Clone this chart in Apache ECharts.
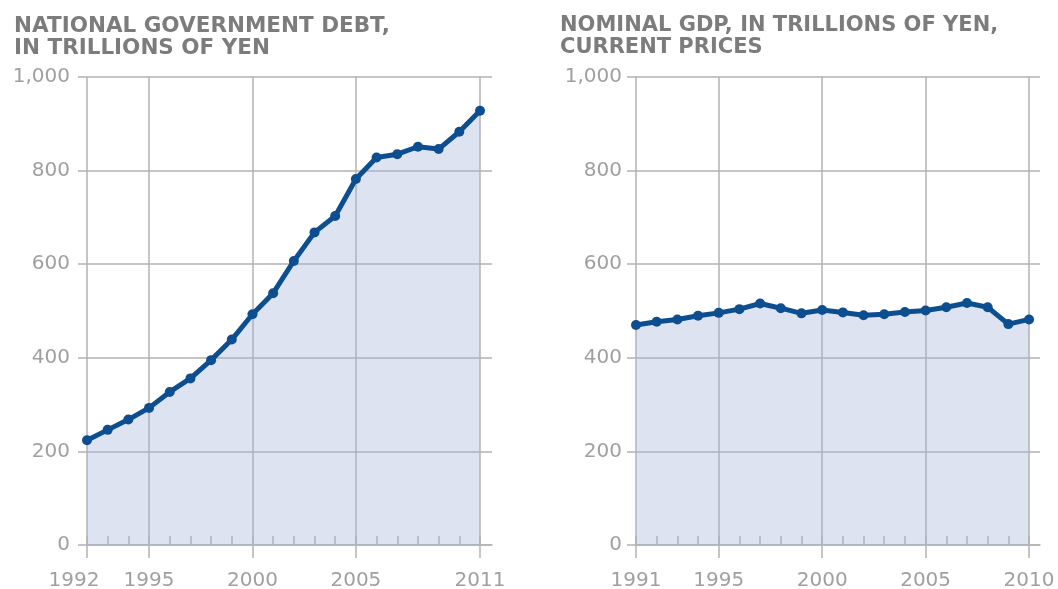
<!DOCTYPE html>
<html>
<head>
<meta charset="utf-8">
<script src="https://cdn.jsdelivr.net/npm/echarts@6/dist/echarts.min.js"></script>
<style>
  html, body { margin: 0; padding: 0; background: #ffffff; }
  #chart { width: 1058px; height: 589px; }
</style>
</head>
<body>
<div id="chart"></div>
<script>
// National government debt, trillions of yen
const debtYears = [1992, 1993, 1994, 1995, 1996, 1997, 1998, 1999, 2000, 2001,
                   2002, 2003, 2004, 2005, 2006, 2007, 2008, 2009, 2010, 2011];
const debtValues = [224, 246, 268, 293, 327, 356, 395, 439, 493, 538,
                    607, 668, 703, 782, 828, 835, 851, 846, 883, 928];
const debtLabelYears = [1992, 1995, 2000, 2005, 2011];

// Nominal GDP, trillions of yen, current prices
const gdpYears = [1991, 1992, 1993, 1994, 1995, 1996, 1997, 1998, 1999, 2000,
                  2001, 2002, 2003, 2004, 2005, 2006, 2007, 2008, 2009, 2010];
const gdpValues = [470, 477, 482, 490, 496, 504, 516, 506, 495, 502,
                   497, 491, 493, 498, 501, 508, 517, 508, 472, 482];
const gdpLabelYears = [1991, 1995, 2000, 2005, 2010];

const yMin = 0, yMax = 1000, yStep = 200;

const TITLE_COLOR = '#7c7c7c';
const LABEL_COLOR = '#a0a0a0';
const GRID_COLOR = '#b2b2b2';
const LINE_COLOR = '#0d4e90';
const FILL_COLOR = 'rgba(160, 178, 215, 0.36)';
const FONT = 'DejaVu Sans';

function pairs(xs, ys) { return xs.map((x, i) => [x, ys[i]]); }

function majorX(gridIndex, min, max, labelYears, shiftedYear) {
  return {
    type: 'value', gridIndex, min, max, position: 'bottom',
    axisLine: { show: true, onZero: false, lineStyle: { color: GRID_COLOR, width: 1.5 } },
    axisTick: { show: true, customValues: labelYears, length: 13, inside: false,
                lineStyle: { color: GRID_COLOR, width: 1.5 } },
    axisLabel: {
      customValues: labelYears, margin: 26,
      color: LABEL_COLOR, fontSize: 20, fontFamily: FONT,
      // the first year label sits a little left of its tick
      formatter: v => (v === shiftedYear ? '{lead|' + v + '}' : String(v)),
      rich: { lead: { color: LABEL_COLOR, fontSize: 20, fontFamily: FONT, padding: [0, 26, 0, 0] } }
    },
    splitLine: { show: true, customValues: labelYears, lineStyle: { color: GRID_COLOR, width: 1.5 } }
  };
}

function minorX(gridIndex, min, max, years) {
  return {
    type: 'value', gridIndex, min, max, position: 'bottom',
    axisLine: { show: false },
    axisTick: { show: true, customValues: years, length: 9, inside: true,
                lineStyle: { color: GRID_COLOR, width: 1.5 } },
    axisLabel: { show: false },
    splitLine: { show: false }
  };
}

function valueY(gridIndex, margin) {
  return {
    type: 'value', gridIndex, min: yMin, max: yMax, interval: yStep,
    axisLine: { show: false },
    axisTick: { show: true, length: 9, lineStyle: { color: GRID_COLOR, width: 1.5 } },
    axisLabel: { margin, color: LABEL_COLOR, fontSize: 20, fontFamily: FONT,
                 formatter: v => v.toLocaleString('en-US') },
    splitLine: { show: true, lineStyle: { color: GRID_COLOR, width: 1.5 } }
  };
}

function lineSeries(xAxisIndex, yAxisIndex, data) {
  return {
    type: 'line', xAxisIndex, yAxisIndex, data,
    symbol: 'circle', symbolSize: 10, z: 3,
    lineStyle: { color: LINE_COLOR, width: 5 },
    itemStyle: { color: LINE_COLOR },
    areaStyle: { color: FILL_COLOR, opacity: 1, origin: 'start' },
    silent: true, animation: false
  };
}

const chart = echarts.init(document.getElementById('chart'), null, { renderer: 'canvas' });

chart.setOption({
  backgroundColor: '#ffffff',
  animation: false,
  title: [
    { text: 'NATIONAL GOVERNMENT DEBT,\nIN TRILLIONS OF YEN', left: 9, top: 10,
      textStyle: { color: TITLE_COLOR, fontSize: 21.5, fontWeight: 'bold', fontFamily: FONT, lineHeight: 22 } },
    { text: 'NOMINAL GDP, IN TRILLIONS OF YEN,\nCURRENT PRICES', left: 555, top: 10,
      textStyle: { color: TITLE_COLOR, fontSize: 21, fontWeight: 'bold', fontFamily: FONT, lineHeight: 22 } }
  ],
  grid: [
    { left: 87, top: 77, width: 405, height: 468, outerBoundsMode: 'none' },
    { left: 636, top: 77, width: 404, height: 468, outerBoundsMode: 'none' }
  ],
  xAxis: [
    majorX(0, 1992, 2011.58, debtLabelYears, 1992),
    minorX(0, 1992, 2011.58, debtYears),
    majorX(1, 1991, 2010.53, gdpLabelYears, null),
    minorX(1, 1991, 2010.53, gdpYears)
  ],
  yAxis: [
    valueY(0, 17),
    valueY(1, 14)
  ],
  series: [
    lineSeries(0, 0, pairs(debtYears, debtValues)),
    lineSeries(2, 1, pairs(gdpYears, gdpValues))
  ]
});
</script>
</body>
</html>
